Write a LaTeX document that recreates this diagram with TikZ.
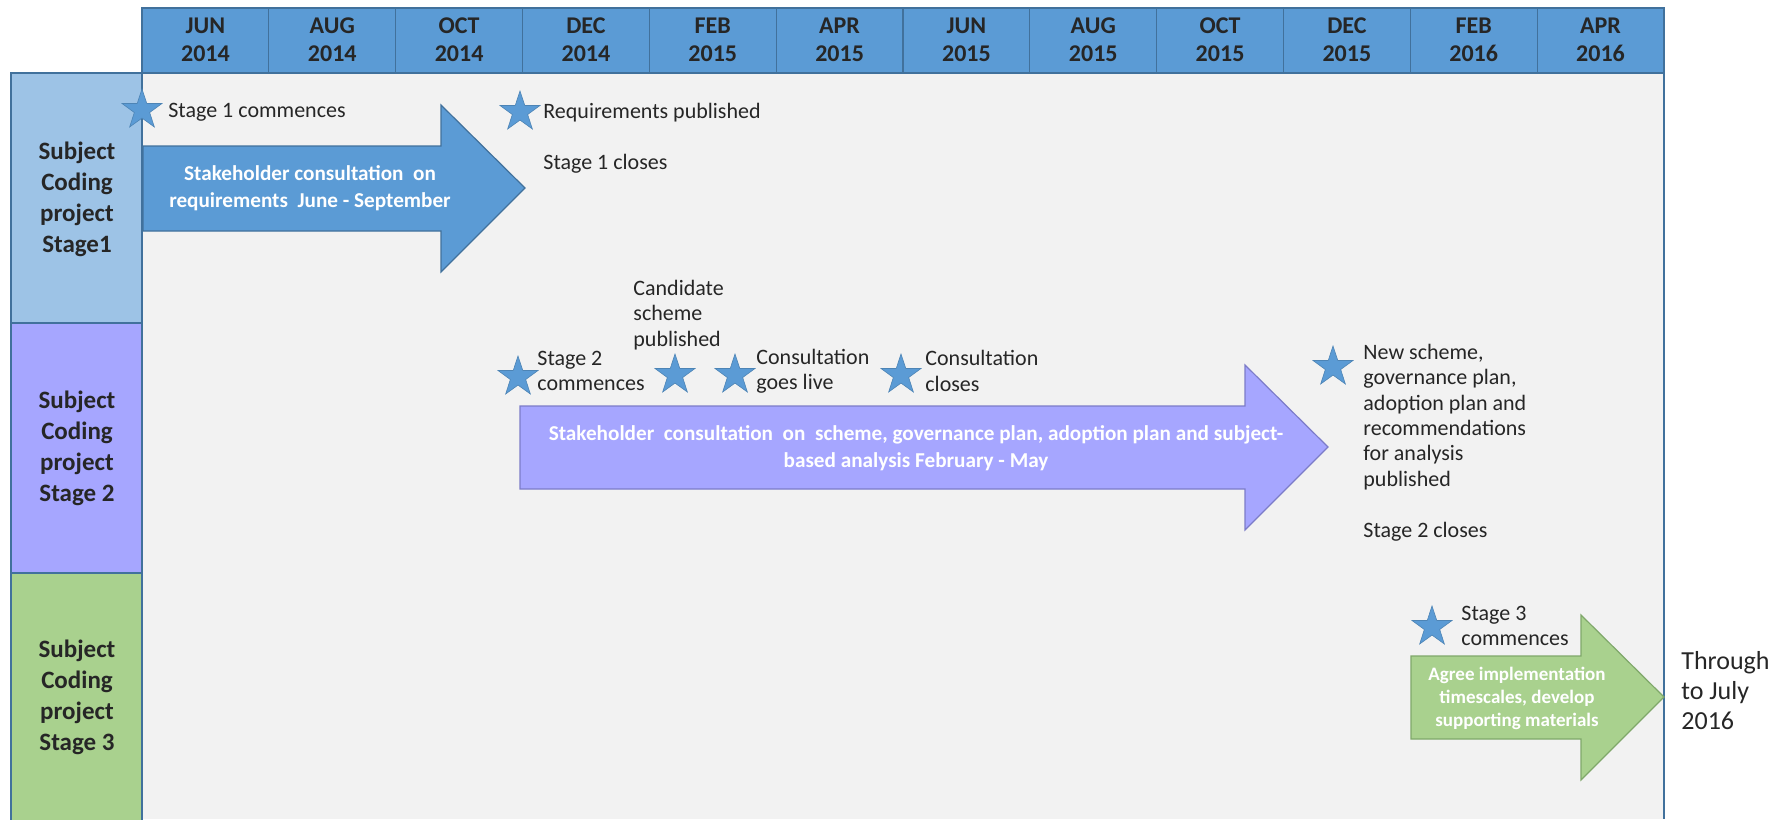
\documentclass[tikz,border=0pt]{standalone}
\usepackage{fontspec}
\setmainfont{Carlito}
\usetikzlibrary{shapes.geometric}
\definecolor{sbBlue}{HTML}{5B9BD5}
\definecolor{sbEdge}{HTML}{41719C}
\definecolor{sbSky}{HTML}{9DC3E6}
\definecolor{sbLilac}{HTML}{A6A6FF}
\definecolor{sbLilacEdge}{HTML}{7C7CC8}
\definecolor{sbGreen}{HTML}{A9D18E}
\definecolor{sbGreenEdge}{HTML}{7FA86A}
\definecolor{sbGrey}{HTML}{F2F2F2}
\definecolor{sbInk}{HTML}{262626}
\tikzset{
  hdr/.style={font=\bfseries\fontsize{12}{14}\selectfont, text=sbInk, align=center},
  lane/.style={draw=sbEdge, line width=0.6pt},
  lanelbl/.style={font=\bfseries\fontsize{12.5}{15.5}\selectfont, text=sbInk, align=center},
  milestone/.style={star, star points=5, star point ratio=2.6, fill=sbBlue,
              draw=sbBlue!85!black, line width=0.3pt, inner sep=0pt, minimum size=21pt},
  note/.style={font=\fontsize{11}{12.7}\selectfont, text=sbInk, align=left,
              anchor=west, inner sep=0pt},
  phase/.style={line width=0.6pt, line join=miter},
  phasetxt/.style={font=\bfseries\fontsize{10.6}{13.5}\selectfont, text=white, align=center},
}
\begin{document}
\begin{tikzpicture}[x=0.5pt, y=-0.5pt]
  \useasboundingbox (0,0) rectangle (1781,819);
  % plot area
  \fill[sbGrey] (142,73) rectangle (1664,819);
  \draw[sbEdge, line width=0.6pt] (1664,73) -- (1664,819);
  % month header
  \draw[lane, fill=sbBlue] (142,8) rectangle (1664,73);
  \foreach \i/\mon/\yr in {0/JUN/2014,1/AUG/2014,2/OCT/2014,3/DEC/2014,
                           4/FEB/2015,5/APR/2015,6/JUN/2015,7/AUG/2015,
                           8/OCT/2015,9/DEC/2015,10/FEB/2016,11/APR/2016}{
    \draw[lane] ({142+\i*126.83},8) -- ({142+\i*126.83},73);
    \node[hdr] (m\i) at ({142+(\i+0.5)*126.83},40) {\mon\\\yr};
  }
  % stage lanes
  \draw[lane, fill=sbSky]   (11,73)  rectangle (142,323);
  \draw[lane, fill=sbLilac] (11,323) rectangle (142,573);
  \draw[lane, fill=sbGreen] (11,573) rectangle (142,830);
  \node[lanelbl] (lane1) at (77,199) {Subject\\Coding\\project\\Stage1};
  \node[lanelbl] (lane2) at (77,448) {Subject\\Coding\\project\\Stage 2};
  \node[lanelbl] (lane3) at (77,697) {Subject\\Coding\\project\\Stage 3};

  % stage 1
  \draw[phase, fill=sbBlue, draw=sbEdge]
        (143,146) -- (441,146) -- (441,105) -- (525,188) -- (441,272) -- (441,231) -- (143,231) -- cycle;
  \node[phasetxt] (ph1) at (310,188)
        {Stakeholder consultation\ \ on\\requirements\ \ June - September};
  \node[milestone] (s1) at (142,110) {};
  \node[note] (s1t) at (168,112) {Stage 1 commences};
  \node[milestone] (s2) at (520,112) {};
  \node[note] (s2t) at (543,113) {Requirements published};
  \node[note] (s3t) at (543,164) {Stage 1 closes};

  % stage 2
  \draw[phase, fill=sbLilac, draw=sbLilacEdge]
        (520,406) -- (1245,406) -- (1245,365) -- (1328,447) -- (1245,530) -- (1245,489) -- (520,489) -- cycle;
  \node[phasetxt] (ph2) at (916,448)
        {Stakeholder\ \ consultation\ \ on\ \ scheme,\ governance\ plan,\ adoption\ plan\ and\ subject-\\based analysis February - May};
  \node[milestone] (s4) at (518,377) {};
  \node[note] (s4t) at (537,371) {Stage 2\\commences};
  \node[milestone] (s5) at (675,375) {};
  \node[note] (s5t) at (633,315) {Candidate\\scheme\\published};
  \node[milestone] (s6) at (735,375) {};
  \node[note] (s6t) at (756,371) {Consultation\\goes live};
  \node[milestone] (s7) at (901,375) {};
  \node[note] (s7t) at (925,371) {Consultation\\closes};
  \node[milestone] (s8) at (1333,367) {};
  \node[note] (s8t) at (1363,417)
        {New scheme,\\governance plan,\\adoption plan and\\recommendations\\for analysis\\published};
  \node[note] (s9t) at (1363,532) {Stage 2 closes};

  % stage 3
  \draw[phase, fill=sbGreen, draw=sbGreenEdge]
        (1411,656) -- (1581,656) -- (1581,615) -- (1664,697) -- (1581,780) -- (1581,739) -- (1411,739) -- cycle;
  \node[phasetxt, font=\bfseries\fontsize{9.5}{11.5}\selectfont] (ph3) at (1517,698)
        {Agree implementation\\timescales, develop\\supporting materials};
  \node[milestone] (s10) at (1432,627) {};
  \node[note] (s10t) at (1461,626) {Stage 3\\commences};
  \node[note, font=\fontsize{13}{15}\selectfont] (endt) at (1681,691) {Through\\to July\\2016};
\end{tikzpicture}
\end{document}
